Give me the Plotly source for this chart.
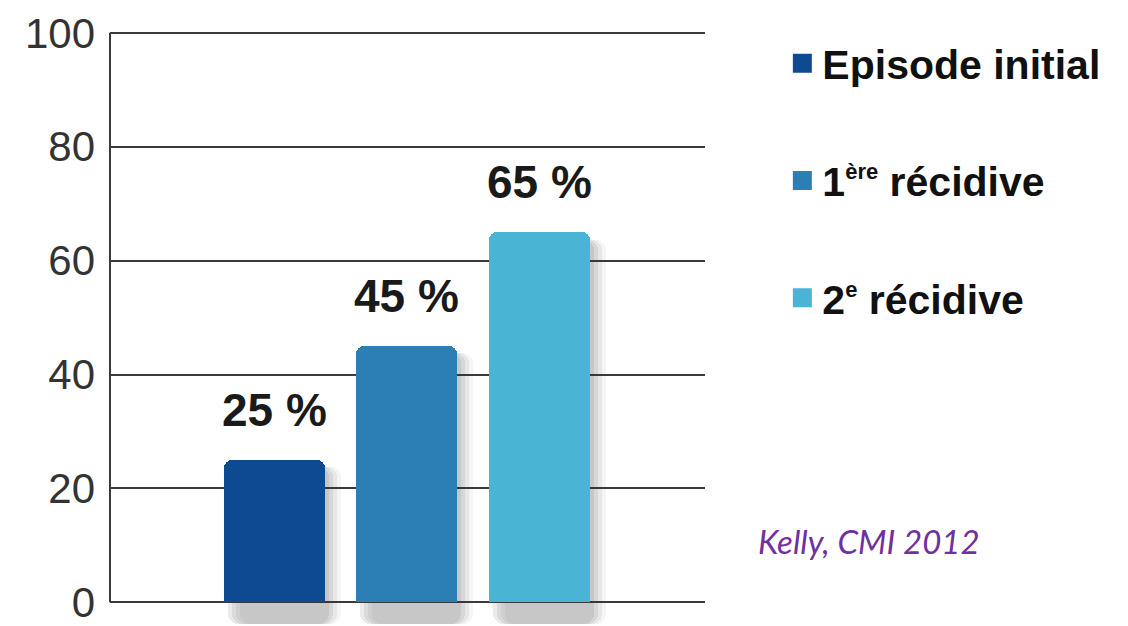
import plotly.graph_objects as go

# Data
categories = ["Episode initial", "1ère récidive", "2e récidive"]
legend_names = [
    "Episode initial",
    "1<sup><span style='font-size:22px'>ère</span></sup> récidive",
    "2<sup><span style='font-size:22px'>e</span></sup> récidive",
]
values = [25, 45, 65]
bar_labels = ["25 %", "45 %", "65 %"]
bar_colors = ["#0D4A91", "#2B7FB4", "#4AB4D4"]
y_ticks = [0, 20, 40, 60, 80, 100]
source_note = "Kelly, CMI 2012"

positions = list(range(len(categories)))
BAR_W = 0.76

fig = go.Figure()

# soft drop shadow behind each bar (several translucent layers)
for dx, alpha in [(0.12, 0.05), (0.09, 0.07), (0.06, 0.09), (0.03, 0.10)]:
    fig.add_trace(go.Bar(
        x=positions, y=[v + 2.5 for v in values], base=-3.8,
        width=BAR_W, offset=-BAR_W / 2 + dx,
        marker=dict(color=f"rgba(60,60,60,{alpha})", line=dict(width=0), cornerradius=10),
        showlegend=False, hoverinfo="skip",
    ))

# main bars
for i, cat in enumerate(categories):
    fig.add_trace(go.Bar(
        x=[positions[i]], y=[values[i]], width=BAR_W,
        marker=dict(color=bar_colors[i], line=dict(width=0), cornerradius=8),
        name=cat, showlegend=False,
    ))

# legend entries (square swatches)
for i, name in enumerate(legend_names):
    fig.add_trace(go.Scatter(
        x=[None], y=[None], mode="markers", name=name,
        marker=dict(symbol="square", size=20, color=bar_colors[i],
                    line=dict(width=3, color=bar_colors[i])),
        legendgroup=f"g{i}",
    ))

# value labels above bars
for i, v in enumerate(values):
    fig.add_annotation(
        x=positions[i], y=v, text=bar_labels[i], showarrow=False,
        yanchor="bottom", yshift=22,
        font=dict(family="Liberation Sans, Arial", size=46, color="#1a1a1a", weight="bold"),
    )

# source note
fig.add_annotation(
    xref="paper", yref="paper", x=1.275, y=0.139, text=source_note, showarrow=False,
    xanchor="center", yanchor="middle",
    font=dict(family="Lato, Open Sans", size=33, color="#7030A0", style="italic"),
)

# vertical axis line from 0 to 100
fig.add_shape(type="line", xref="paper", yref="y", x0=0, x1=0, y0=0, y1=100,
              line=dict(color="#3a3a3a", width=2))

fig.update_layout(
    width=1128, height=626,
    margin=dict(l=110, r=423, t=30, b=0),
    paper_bgcolor="white", plot_bgcolor="white",
    barmode="overlay", bargap=0,
    xaxis=dict(range=[-1.24, 3.25], showgrid=False, zeroline=False,
               showticklabels=False, showline=False, fixedrange=True),
    yaxis=dict(range=[-3.8, 100.5], tickvals=y_ticks, showgrid=True,
               gridcolor="#3a3a3a", gridwidth=2, zeroline=False, showline=False,
               ticks="", ticklabelstandoff=14, ticklabeloverflow="allow",
               tickfont=dict(family="Liberation Sans, Arial", size=42, color="#333333")),
    legend=dict(x=1.13, y=1.0, xanchor="left", yanchor="top",
                font=dict(family="Liberation Sans, Arial", size=41, color="#111111", weight="bold"),
                tracegroupgap=61, itemsizing="trace", bgcolor="rgba(0,0,0,0)"),
    showlegend=True,
)

fig.write_html("out.html")
